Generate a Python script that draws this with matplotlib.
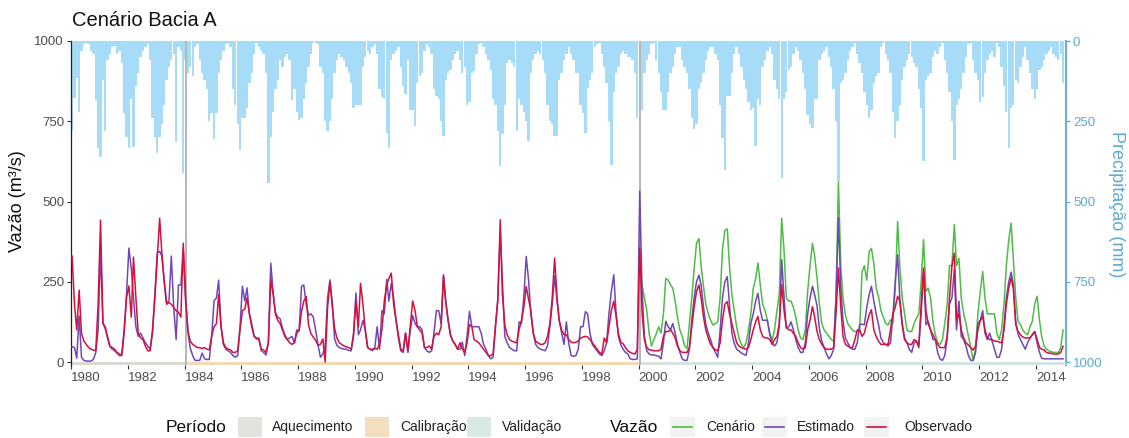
import numpy as np
import pandas as pd
import matplotlib
matplotlib.use("Agg")
import matplotlib.pyplot as plt
import matplotlib.dates as mdates
from matplotlib.patches import Rectangle
from matplotlib.lines import Line2D

plt.rcParams['font.family'] = ['Liberation Sans', 'DejaVu Sans']

# ---------------- data ----------------
titulo = "Cenário Bacia A"
inicio_serie = "1980-01-01"
inicio_cenario = "2000-01-01"
marcos = ["1984-01-20", "2000-01-20"]
periodos = ["Aquecimento", "Calibração", "Validação"]
limites_periodos = ["1980-01-01", "1984-01-20", "2000-01-20", "2015-01-22"]
series_vazao = ["Cenário", "Estimado", "Observado"]
anos_ticks = list(range(1980, 2015, 2))
ticks_y = [0, 250, 500, 750, 1000]

precipitacao = [
    280, 178, 115, 220, 30, 10, 5, 10, 30, 40, 184, 334,
    360, 120, 280, 60, 40, 20, 15, 40, 30, 70, 225, 298,
    334, 180, 330, 140, 100, 50, 30, 20, 10, 60, 240, 300,
    350, 300, 260, 200, 120, 80, 60, 40, 314, 20, 30, 412,
    60, 100, 80, 110, 20, 10, 60, 100, 120, 150, 250, 225,
    306, 225, 100, 60, 30, 10, 5, 20, 150, 200, 260, 340,
    240, 240, 209, 130, 100, 40, 5, 20, 30, 40, 100, 443,
    300, 220, 150, 120, 60, 80, 50, 40, 60, 185, 150, 220,
    245, 240, 180, 130, 80, 40, 5, 5, 10, 80, 100, 250,
    280, 250, 180, 100, 60, 40, 50, 60, 80, 100, 130, 210,
    200, 200, 200, 80, 50, 30, 40, 20, 10, 40, 150, 175,
    180, 287, 333, 60, 40, 30, 20, 80, 140, 165, 60, 214,
    214, 266, 130, 110, 100, 30, 10, 20, 40, 150, 170, 180,
    250, 297, 120, 100, 90, 60, 40, 30, 60, 100, 80, 200,
    190, 100, 95, 40, 10, 5, 20, 40, 60, 90, 180, 200,
    280, 390, 290, 200, 70, 60, 70, 80, 281, 180, 200, 220,
    250, 312, 100, 60, 40, 30, 40, 60, 100, 200, 250, 260,
    297, 297, 120, 100, 60, 40, 20, 40, 60, 100, 100, 200,
    225, 287, 145, 120, 100, 20, 10, 5, 40, 80, 130, 250,
    385, 160, 100, 80, 40, 30, 40, 50, 50, 60, 100, 240,
    240, 215, 100, 60, 40, 10, 5, 60, 100, 160, 214, 214,
    160, 100, 80, 40, 20, 20, 60, 80, 100, 150, 240, 275,
    260, 150, 130, 100, 60, 30, 20, 20, 40, 60, 200, 302,
    401, 170, 170, 100, 40, 20, 40, 80, 120, 150, 190, 215,
    210, 328, 180, 200, 80, 60, 30, 20, 40, 120, 150, 180,
    427, 180, 160, 90, 80, 40, 20, 30, 60, 100, 150, 230,
    260, 271, 180, 180, 60, 40, 30, 20, 50, 80, 150, 250,
    440, 130, 120, 100, 60, 30, 20, 5, 40, 70, 100, 160,
    200, 240, 215, 130, 110, 100, 20, 5, 40, 60, 100, 220,
    302, 250, 200, 120, 80, 60, 40, 50, 70, 80, 150, 210,
    375, 120, 110, 100, 50, 30, 40, 20, 5, 60, 100, 160,
    250, 370, 200, 180, 150, 100, 50, 10, 5, 60, 100, 120,
    190, 175, 100, 60, 40, 30, 50, 5, 20, 80, 140, 220,
    333, 210, 200, 120, 130, 80, 50, 20, 60, 100, 150, 180,
    150, 90, 80, 60, 40, 30, 20, 40, 50, 60, 40, 131,
]

observado = [
    330, 180, 100, 224, 90, 65, 55, 45, 40, 37, 36, 180,
    442, 121, 110, 80, 50, 45, 40, 30, 25, 22, 100, 200,
    237, 140, 327, 200, 90, 75, 70, 50, 35, 35, 100, 200,
    322, 448, 340, 250, 180, 185, 180, 170, 160, 155, 140, 370,
    200, 95, 65, 55, 50, 45, 45, 42, 45, 40, 38, 80,
    110, 120, 210, 110, 60, 45, 40, 38, 30, 30, 35, 100,
    160, 165, 200, 150, 110, 80, 75, 70, 40, 38, 30, 60,
    258, 210, 150, 130, 120, 100, 80, 70, 60, 55, 60, 90,
    98, 158, 190, 204, 115, 88, 78, 67, 52, 55, 72, 0,
    170, 250, 178, 105, 75, 60, 55, 50, 47, 45, 40, 80,
    190, 110, 245, 180, 100, 45, 40, 40, 42, 40, 55, 100,
    190, 240, 260, 277, 180, 130, 85, 40, 35, 90, 35, 110,
    190, 160, 110, 100, 90, 45, 45, 50, 40, 80, 90, 85,
    110, 268, 190, 130, 85, 65, 55, 40, 60, 40, 30, 60,
    117, 110, 70, 65, 60, 50, 40, 30, 20, 20, 25, 110,
    190, 443, 210, 115, 85, 70, 65, 62, 60, 100, 130, 170,
    235, 195, 160, 90, 65, 60, 55, 55, 60, 80, 120, 200,
    324, 200, 130, 100, 85, 85, 70, 62, 60, 62, 65, 75,
    78, 80, 78, 70, 60, 50, 40, 30, 25, 75, 60, 110,
    160, 190, 145, 90, 62, 57, 45, 35, 30, 27, 25, 40,
    355, 150, 70, 45, 38, 37, 35, 35, 35, 40, 80, 95,
    95, 100, 90, 75, 50, 35, 30, 30, 30, 45, 110, 170,
    220, 240, 200, 140, 100, 75, 55, 45, 38, 35, 60, 130,
    180, 188, 150, 120, 90, 60, 50, 45, 42, 40, 45, 70,
    100, 125, 142, 100, 80, 75, 75, 70, 55, 70, 80, 120,
    241, 160, 110, 100, 100, 90, 80, 60, 45, 40, 45, 100,
    130, 173, 140, 95, 70, 55, 45, 40, 40, 40, 45, 150,
    293, 170, 80, 55, 50, 45, 45, 70, 100, 100, 80, 90,
    120, 147, 163, 100, 80, 65, 55, 55, 55, 55, 100, 150,
    170, 205, 190, 117, 70, 60, 55, 55, 70, 65, 45, 180,
    293, 160, 120, 100, 85, 70, 55, 45, 45, 45, 80, 200,
    300, 339, 130, 150, 100, 75, 60, 53, 45, 37, 50, 100,
    130, 141, 100, 75, 70, 70, 65, 65, 62, 60, 100, 180,
    230, 262, 230, 116, 95, 85, 78, 75, 75, 75, 85, 95,
    70, 45, 40, 38, 30, 28, 27, 25, 25, 25, 30, 49,
]

estimado = [
    48, 45, 12, 143, 15, 5, 3, 3, 3, 8, 30, 100,
    349, 120, 105, 75, 48, 40, 35, 28, 20, 20, 90, 210,
    355, 290, 200, 110, 80, 90, 75, 60, 50, 40, 90, 210,
    340, 345, 330, 250, 185, 190, 330, 170, 70, 240, 240, 350,
    190, 90, 43, 20, 5, 5, 5, 28, 10, 8, 8, 80,
    190, 200, 255, 110, 55, 40, 35, 30, 20, 15, 20, 110,
    236, 190, 231, 150, 119, 80, 72, 75, 35, 30, 22, 60,
    308, 215, 155, 140, 135, 105, 85, 70, 75, 80, 60, 100,
    98, 236, 240, 180, 146, 150, 140, 98, 52, 15, 25, 50,
    200, 256, 187, 72, 52, 45, 42, 40, 40, 36, 35, 90,
    215, 85, 100, 130, 100, 45, 40, 35, 45, 110, 40, 160,
    150, 258, 190, 245, 200, 130, 75, 35, 30, 90, 30, 100,
    145, 120, 110, 110, 100, 45, 35, 30, 35, 90, 160, 160,
    120, 272, 190, 130, 85, 65, 55, 40, 40, 62, 20, 80,
    158, 110, 110, 110, 110, 90, 55, 40, 20, 10, 15, 110,
    200, 406, 250, 80, 60, 45, 40, 35, 35, 125, 120, 200,
    329, 255, 150, 90, 55, 45, 40, 38, 35, 50, 110, 180,
    268, 190, 130, 90, 55, 125, 60, 20, 18, 20, 40, 110,
    110, 157, 150, 90, 55, 45, 35, 25, 20, 35, 60, 150,
    220, 272, 160, 80, 55, 40, 30, 25, 10, 8, 8, 10,
    532, 220, 80, 35, 25, 22, 22, 20, 18, 10, 60, 127,
    110, 100, 120, 90, 55, 30, 10, 5, 5, 40, 130, 200,
    250, 271, 240, 170, 117, 90, 70, 45, 30, 15, 100, 200,
    250, 266, 180, 90, 58, 40, 35, 28, 24, 21, 60, 120,
    150, 190, 214, 160, 130, 130, 130, 85, 60, 50, 60, 110,
    319, 200, 105, 110, 125, 100, 70, 45, 30, 30, 60, 150,
    200, 236, 210, 175, 105, 65, 45, 25, 10, 20, 40, 200,
    449, 230, 130, 75, 60, 45, 40, 40, 60, 116, 118, 116,
    170, 210, 236, 190, 150, 116, 75, 60, 55, 50, 60, 140,
    250, 334, 200, 120, 75, 60, 40, 30, 60, 65, 55, 150,
    282, 116, 127, 100, 70, 70, 30, 10, 5, 20, 75, 180,
    200, 290, 100, 190, 80, 70, 50, 20, 5, 5, 30, 120,
    130, 160, 90, 70, 90, 65, 40, 15, 15, 40, 110, 200,
    250, 280, 241, 127, 86, 70, 55, 40, 60, 75, 85, 95,
    60, 30, 12, 10, 10, 10, 10, 10, 10, 10, 10, 10,
]

cenario = [
    290, 240, 200, 160, 90, 50, 70, 88, 110, 90, 150, 260,
    255, 240, 230, 190, 140, 100, 80, 50, 42, 120, 200, 290,
    370, 385, 300, 235, 180, 150, 130, 115, 120, 125, 200, 350,
    410, 415, 300, 210, 160, 110, 75, 55, 45, 60, 100, 150,
    230, 260, 308, 240, 180, 160, 130, 90, 68, 100, 160, 210,
    448, 345, 200, 190, 190, 170, 140, 100, 75, 70, 100, 220,
    300, 370, 330, 262, 180, 120, 100, 90, 80, 70, 65, 200,
    559, 300, 199, 147, 120, 109, 100, 95, 95, 95, 280, 300,
    255, 344, 354, 307, 230, 203, 160, 140, 120, 115, 131, 120,
    225, 438, 300, 200, 150, 100, 95, 95, 120, 137, 150, 250,
    381, 220, 230, 200, 127, 85, 60, 55, 70, 120, 180, 300,
    300, 428, 300, 323, 200, 150, 120, 80, 45, 5, 40, 150,
    220, 282, 200, 150, 150, 150, 150, 90, 70, 100, 180, 300,
    380, 433, 320, 200, 127, 116, 100, 90, 85, 110, 127, 180,
    205, 130, 80, 50, 40, 35, 32, 30, 30, 30, 45, 100,
]

# ---------------- styles ----------------
cores_periodo = ["#dadad5", "#f0dbb6", "#d5e5df"]
cores_legenda_periodo = ["#e3e3de", "#f2dfbf", "#dbe9e4"]
cores_vazao = {"Cenário": "#4dbd44", "Estimado": "#7047b9", "Observado": "#d6103c"}
cor_chuva = "#a6dcf8"
cor_eixo_chuva = "#5ea8d4"

W, H = 1129, 438
def fx(px):
    return px / W
def fy(py):
    return 1 - py / H

datas = pd.date_range(inicio_serie, periods=len(observado), freq="MS") + pd.Timedelta(days=14)
datas_cen = datas[datas >= pd.Timestamp(inicio_cenario)]

fig = plt.figure(figsize=(W / 100, H / 100), dpi=100)
fig.patch.set_facecolor("white")

y_top, y_bot = 41, 364.6
axp = fig.add_axes([fx(71), fy(y_bot), fx(1066) - fx(71), fy(y_top) - fy(y_bot)])
axq = axp.twinx()

# precipitation (right axis, inverted)
axp.bar(datas, precipitacao, width=30, color=cor_chuva, linewidth=0, align="center", zorder=1)
axp.set_ylim(1008, 0)
axp.yaxis.tick_right()
axp.set_yticks(ticks_y)
axp.tick_params(axis="y", colors=cor_eixo_chuva, labelcolor=cor_eixo_chuva, labelsize=9.5,
                length=3, width=1, pad=2)
for s in ["top", "bottom", "left"]:
    axp.spines[s].set_visible(False)
axp.spines["right"].set_color("#6aaed6")
axp.spines["right"].set_linewidth(1.5)

# flows (left axis)
axq.yaxis.tick_left()
axq.yaxis.set_label_position("left")
axq.set_ylim(-8, 1000)
axq.set_yticks(ticks_y)
axq.tick_params(axis="y", colors="#333333", labelcolor="#4d4d4d", labelsize=9.5, length=3, width=0.8, pad=2)
for s in ["top", "bottom", "right"]:
    axq.spines[s].set_visible(False)
axq.spines["left"].set_color("#222222")
axq.spines["left"].set_linewidth(0.9)

# period strips
for nome, cor, a, b in zip(periodos, cores_periodo, limites_periodos[:-1], limites_periodos[1:]):
    d0, d1 = mdates.date2num(pd.Timestamp(a)), mdates.date2num(pd.Timestamp(b))
    axq.add_patch(Rectangle((d0, -8), d1 - d0, 8, facecolor=cor, edgecolor="none", zorder=1))

for m in marcos:
    axq.axvline(pd.Timestamp(m), color="#b5b5b5", lw=1.4, zorder=2)

axq.plot(datas_cen, cenario, color=cores_vazao["Cenário"], lw=1.1, zorder=3)
axq.plot(datas, estimado, color=cores_vazao["Estimado"], lw=1.1, zorder=4)
axq.plot(datas, observado, color=cores_vazao["Observado"], lw=1.1, zorder=5)

axp.set_xlim(pd.Timestamp(limites_periodos[0]), pd.Timestamp(limites_periodos[-1]))
xt = [pd.Timestamp(f"{a}-01-01") for a in anos_ticks]
axp.set_xticks(xt)
axp.set_xticklabels([str(a) for a in anos_ticks], ha="left")
axp.tick_params(axis="x", colors="#333333", labelcolor="#4d4d4d", labelsize=9.5, length=3, width=0.8, pad=2)

# titles and axis labels
fig.text(fx(72), fy(21), titulo, fontsize=14.5, color="#111111", ha="left", va="center")
fig.text(fx(18), fy(201), "Vazão (m³/s)", fontsize=13, color="#111111", rotation=90,
         ha="center", va="center")
fig.text(fx(1117), fy(204), "Precipitação (mm)", fontsize=13, color=cor_eixo_chuva, rotation=270,
         ha="center", va="center")

# legend (manual)
yl = 427
fig.text(fx(166), fy(yl), "Período", fontsize=12.5, color="#111111", ha="left", va="center")
caixas = [(238, 272), (365, 400), (467, 502)]
for (bx, tx), nome, cor in zip(caixas, periodos, cores_legenda_periodo):
    fig.add_artist(Rectangle((fx(bx), fy(yl + 10)), fx(24), 20 / H, transform=fig.transFigure,
                             facecolor=cor, edgecolor="none"))
    fig.text(fx(tx), fy(yl), nome, fontsize=10, color="#222222", ha="left", va="center")

fig.text(fx(610), fy(yl), "Vazão", fontsize=12.5, color="#111111", ha="left", va="center")
chaves = [(670, 706), (762, 797), (864, 904)]
for (bx, tx), nome in zip(chaves, series_vazao):
    fig.add_artist(Rectangle((fx(bx), fy(yl + 10)), fx(25), 20 / H, transform=fig.transFigure,
                             facecolor="#f2f2f2", edgecolor="none"))
    fig.add_artist(Line2D([fx(bx + 3), fx(bx + 22)], [fy(yl), fy(yl)], transform=fig.transFigure,
                          color=cores_vazao[nome], lw=1.2))
    fig.text(fx(tx), fy(yl), nome, fontsize=10, color="#222222", ha="left", va="center")

fig.savefig("out.png", dpi=100)
